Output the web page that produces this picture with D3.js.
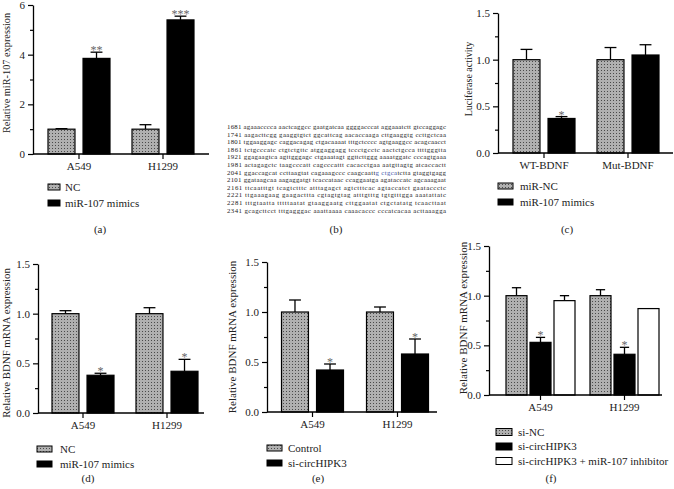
<!DOCTYPE html>
<html><head><meta charset="utf-8">
<script src="https://cdn.jsdelivr.net/npm/d3@7"></script>
<style>
body{margin:0;background:#fff}
svg{display:block}
text{font-family:"Liberation Serif","DejaVu Serif",serif;fill:#222}
</style>
</head><body><svg id="fig" width="674" height="489"></svg>
<script>
// ---------------- data ----------------
const cellLines = ["A549", "H1299"];
const reporters = ["WT-BDNF", "Mut-BDNF"];

const aSeries = ["NC", "miR-107 mimics"];
const aValues = [[1.00, 1.00], [3.85, 5.40]];
const aErrors = [[0.02, 0.18], [0.25, 0.15]];
const aStars  = [["", ""], ["**", "***"]];
const aTicks  = [0, 2, 4, 6];
const aMinor  = [1, 3, 5];

const cSeries = ["miR-NC", "miR-107 mimics"];
const cValues = [[1.00, 1.00], [0.37, 1.05]];
const cErrors = [[0.11, 0.13], [0.02, 0.11]];
const cStars  = [["", ""], ["*", ""]];

const ratioTicks = [0, 0.5, 1.0, 1.5];
const ratioMinor = [0.25, 0.75, 1.25];

const dSeries = ["NC", "miR-107 mimics"];
const dValues = [[1.00, 1.00], [0.38, 0.42]];
const dErrors = [[0.03, 0.06], [0.02, 0.12]];
const dStars  = [["", ""], ["*", "*"]];

const eSeries = ["Control", "si-circHIPK3"];
const eValues = [[1.00, 1.00], [0.42, 0.58]];
const eErrors = [[0.12, 0.05], [0.06, 0.15]];
const eStars  = [["", ""], ["*", "*"]];

const fSeries = ["si-NC", "si-circHIPK3", "si-circHIPK3 + miR-107 inhibitor"];
const fValues = [[1.00, 1.00], [0.53, 0.41], [0.95, 0.87]];
const fErrors = [[0.08, 0.06], [0.05, 0.07], [0.05, 0]];
const fStars  = [["", ""], ["*", "*"], ["", ""]];

const seqLines = [
  "1681 agaaacccca aactcaggcc gaatgatcaa ggggacccat aggaaatctt gtccaggagc",
  "1741 aagacttcgg gaaggtgtct ggcattcag aacaccaaga cttgaaggtg ccttgctcaa",
  "1801 tggaaggagc caggacagag ctgacaaaat tttgctcccc agtgaaggcc acagcaacct",
  "1861 tctgcccatc ctgtctgttc atggaggagg tccctgcctc aactctgcca ttttgggtta",
  "1921 ggagaagtca agttgggagc ctgaaatagt ggttcttggg aaaatggatc cccagtgaaa",
  "1981 actagagctc taagcccatt cagcccattt cacacctgaa aatgttagtg atcaccactt",
  "2041 ggaccagcat ccttaagtat cagaaagccc caagcaattg ctgcatctta gtaggtgagg",
  "2101 ggataagcaa aagaggatgt tcaccataac ccaggaatga agataccatc agcaaagaat",
  "2161 ttcaatttgt tcagtctttc atttagagct agtctttcac agtaccatct gaataccctc",
  "2221 ttgaaagaag gaagacttta cgtagtgtag atttgtttg tgtgtttgga aaatattatc",
  "2281 tttgtaatta tttttaatat gtaaggaatg cttggaatat ctgctatatg tcaacttaat",
  "2341 gcagcttcct tttgagggac aaattaaaa caaacaccc cccatcacaa acttaaagga"
];
const seqHighlightLine = 6;
const seqHighlight = "g ctgca";

// ---------------- drawing ----------------
const svg = d3.select("#fig");
const defs = svg.append("defs");
const pat = defs.append("pattern").attr("id", "dots")
  .attr("width", 3).attr("height", 3).attr("patternUnits", "userSpaceOnUse");
pat.append("rect").attr("width", 3).attr("height", 3).attr("fill", "#b0b0b0");
pat.append("rect").attr("x", 1).attr("y", 1).attr("width", 1).attr("height", 1).attr("fill", "#4a4a4a");

const fills = ["url(#dots)", "#000", "#fff"];

function panel(o) {
  const g = svg.append("g");
  const y = d3.scaleLinear().domain([0, o.ticks[o.ticks.length - 1]]).range([o.y0, o.yTop]);
  const x0 = d3.scaleBand().domain(o.cats).range(o.xRange);
  const x1 = d3.scaleBand().domain(o.series).range([-o.gw / 2, o.gw / 2]).paddingInner(o.pad);
  const cx = c => x0(c) + x0.bandwidth() / 2;

  // bars
  o.series.forEach((s, si) => {
    o.cats.forEach((c, ci) => {
      const v = o.values[si][ci], e = o.errors[si][ci];
      const bx = cx(c) + x1(s), bw = x1.bandwidth();
      const mid = bx + bw / 2;
      if (e > 0) {
        g.append("line").attr("x1", mid).attr("x2", mid).attr("y1", y(v)).attr("y2", y(v + e))
          .attr("stroke", "#000").attr("stroke-width", 1.3);
        g.append("line").attr("x1", mid - bw * 0.22).attr("x2", mid + bw * 0.22)
          .attr("y1", y(v + e)).attr("y2", y(v + e)).attr("stroke", "#000").attr("stroke-width", 1.3);
      }
      g.append("rect").attr("x", bx).attr("y", y(v)).attr("width", bw).attr("height", y(0) - y(v))
        .attr("fill", fills[si]).attr("stroke", "#000").attr("stroke-width", 1.2);
      const st = o.stars[si][ci];
      if (st) {
        g.append("text").attr("x", mid).attr("y", y(v + e) + 2).attr("text-anchor", "middle")
          .attr("font-size", 12).style("fill", "#666").text(st);
      }
    });
  });

  // y axis
  const ya = g.append("g").attr("transform", `translate(${o.axisX},0)`)
    .call(d3.axisLeft(y).tickValues(o.ticks).tickSize(5).tickSizeOuter(0).tickPadding(3).tickFormat(o.fmt));
  ya.select(".domain").attr("stroke-width", 1.3);
  ya.selectAll(".tick line").attr("stroke-width", 1.2);
  ya.selectAll("text").attr("font-size", 11).attr("font-family", '"Liberation Serif",serif').attr("fill", "#222");
  const ym = g.append("g").attr("transform", `translate(${o.axisX},0)`)
    .call(d3.axisLeft(y).tickValues(o.minor).tickSize(3).tickFormat(""));
  ym.select(".domain").remove();
  ym.selectAll(".tick line").attr("stroke-width", 1.2);

  // x axis
  g.append("line").attr("x1", o.axisX).attr("x2", o.right).attr("y1", o.y0).attr("y2", o.y0)
    .attr("stroke", "#000").attr("stroke-width", 1.3);
  const xa = g.append("g").attr("transform", `translate(0,${o.y0})`)
    .call(d3.axisBottom(x0).tickSize(5).tickPadding(3));
  xa.select(".domain").remove();
  xa.selectAll(".tick line").attr("stroke-width", 1.2);
  xa.selectAll("text").attr("font-size", 11).attr("font-family", '"Liberation Serif",serif').attr("fill", "#222");

  // title
  g.append("text").attr("transform", `translate(${o.titleX},${o.titleY}) rotate(-90)`)
    .attr("text-anchor", "middle").attr("dy", "0.35em").attr("font-size", o.titleSize).text(o.title);

  // legend
  o.series.forEach((s, si) => {
    const ly = o.legY + si * o.legStep;
    g.append("rect").attr("x", o.legX).attr("y", ly - o.swH / 2).attr("width", o.swW).attr("height", o.swH)
      .attr("fill", fills[si]).attr("stroke", "#000").attr("stroke-width", 1);
    g.append("text").attr("x", o.legTextX).attr("y", ly).attr("dy", "0.35em").attr("font-size", 11).text(s);
  });

  g.append("text").attr("x", o.labX).attr("y", o.labY).attr("text-anchor", "middle")
    .attr("dy", "0.35em").attr("font-size", 11).text(o.label);
}

panel({cats: cellLines, series: aSeries, values: aValues, errors: aErrors, stars: aStars,
  ticks: aTicks, minor: aMinor, fmt: d3.format("d"),
  axisX: 33, right: 209, y0: 154, yTop: 5, xRange: [37, 205], gw: 62, pad: 0.23,
  title: "Relative miR-107 expression", titleX: 6, titleY: 73, titleSize: 10.3,
  legX: 48, legY: 187, legStep: 16, swW: 12, swH: 6, legTextX: 65, labX: 100, labY: 229, label: "(a)"});

panel({cats: reporters, series: cSeries, values: cValues, errors: cErrors, stars: cStars,
  ticks: ratioTicks, minor: ratioMinor, fmt: d3.format(".1f"),
  axisX: 498, right: 673, y0: 153, yTop: 13, xRange: [502, 670], gw: 62, pad: 0.23,
  title: "Luciferase activity", titleX: 468, titleY: 79, titleSize: 10,
  legX: 498, legY: 186, legStep: 16, swW: 15, swH: 6, legTextX: 520, labX: 567, labY: 229, label: "(c)"});

panel({cats: cellLines, series: dSeries, values: dValues, errors: dErrors, stars: dStars,
  ticks: ratioTicks, minor: ratioMinor, fmt: d3.format(".1f"),
  axisX: 38, right: 204, y0: 413, yTop: 264, xRange: [41, 209], gw: 62, pad: 0.23,
  title: "Relative BDNF mRNA expression", titleX: 6.5, titleY: 343, titleSize: 10.8,
  legX: 37, legY: 449, legStep: 15, swW: 15, swH: 6, legTextX: 60, labX: 88, labY: 478, label: "(d)"});

panel({cats: cellLines, series: eSeries, values: eValues, errors: eErrors, stars: eStars,
  ticks: ratioTicks, minor: ratioMinor, fmt: d3.format(".1f"),
  axisX: 267, right: 437, y0: 412, yTop: 262, xRange: [270, 440], gw: 62, pad: 0.23,
  title: "Relative BDNF mRNA expression", titleX: 232, titleY: 337, titleSize: 11,
  legX: 267, legY: 448, legStep: 15, swW: 15, swH: 6, legTextX: 288, labX: 318, labY: 478, label: "(e)"});

panel({cats: cellLines, series: fSeries, values: fValues, errors: fErrors, stars: fStars,
  ticks: ratioTicks, minor: ratioMinor, fmt: d3.format(".1f"),
  axisX: 489, right: 662, y0: 395, yTop: 246, xRange: [498.5, 666.5], gw: 69, pad: 0.125,
  title: "Relative BDNF mRNA expression", titleX: 463, titleY: 318, titleSize: 11,
  legX: 496, legY: 432, legStep: 14.5, swW: 16, swH: 7, legTextX: 518, labX: 551, labY: 478, label: "(f)"});

// panel (b): sequence
const seqG = svg.append("g");
seqLines.forEach((line, i) => {
  const t = seqG.append("text").attr("x", 227).attr("y", 129 + i * 7.6)
    .attr("font-size", 6.8).attr("textLength", 219).attr("lengthAdjust", "spacing")
    .style("fill", "#1a1a1a");
  if (i === seqHighlightLine) {
    const k = line.indexOf(seqHighlight);
    t.append("tspan").text(line.slice(0, k));
    t.append("tspan").style("fill", "#3b52a8").text(seqHighlight);
    t.append("tspan").text(line.slice(k + seqHighlight.length));
  } else {
    t.text(line);
  }
});
svg.append("text").attr("x", 336).attr("y", 229).attr("text-anchor", "middle").attr("dy", "0.35em")
  .attr("font-size", 11).text("(b)");
</script>
</body></html>
